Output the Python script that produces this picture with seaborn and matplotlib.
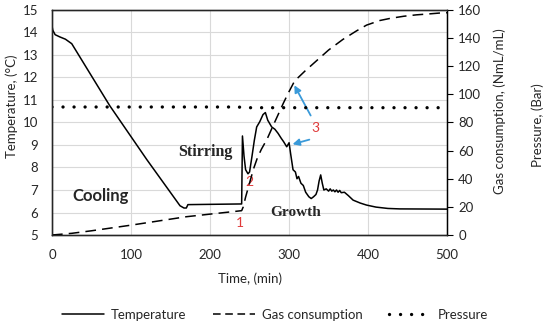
import matplotlib
matplotlib.use("Agg")
import matplotlib.pyplot as plt
import seaborn as sns
from matplotlib.lines import Line2D

# Data ---------------------------------------------------------------------------------
temp_time = [0, 1, 4, 10, 17, 25, 73, 120, 162, 167, 170, 172, 240,
             241, 243, 245, 248, 250, 253, 256, 259, 263, 267, 270, 273, 278, 282, 286,
             290, 293, 297, 300, 302, 305, 308, 310, 312, 315, 318, 321, 325, 328, 331,
             334, 336, 338, 340, 342, 344, 347, 350, 352, 354, 356, 358, 360, 362, 364,
             366, 370, 375, 381, 390, 398, 410, 425, 440, 500]
temp_vals = [14.3, 14.1, 13.9, 13.8, 13.7, 13.5, 10.75, 8.35, 6.3, 6.2, 6.2, 6.35, 6.38,
             9.4, 8.5, 7.9, 7.72, 7.8, 8.48, 9.2, 9.8, 10.04, 10.35, 10.44, 10.1, 9.8, 9.7, 9.52,
             9.3, 9.15, 8.92, 9.1, 8.6, 7.9, 7.8, 7.5, 7.6, 7.3, 7.2, 6.9, 6.7, 6.62, 6.7,
             6.8, 7.0, 7.4, 7.67, 7.3, 7.0, 7.05, 6.95, 7.05, 6.95, 7.0, 6.92, 7.0, 6.9, 6.98,
             6.88, 6.9, 6.75, 6.55, 6.42, 6.33, 6.24, 6.18, 6.16, 6.15]

gas_time = [0, 25, 50, 100, 170, 240, 242, 245, 250, 255, 260, 265, 272, 280, 293, 300,
            307, 320, 335, 350, 368, 385, 398, 415, 428, 445, 461, 480, 495, 500]
gas_vals = [0, 1.2, 3, 7, 13, 17.3, 20, 27, 37, 47, 55, 61, 68, 78, 94, 102,
            109.5, 116.5, 124, 131.5, 139, 145, 149.2, 152.5, 154, 155.5, 156.5, 157.3,
            158, 158]

pres_time = [0, 235, 245, 500]
pres_vals = [91.0, 91.0, 90.5, 90.5]

# Style --------------------------------------------------------------------------------
sns.set_style("white")
plt.rcParams["font.family"] = ["Lato", "DejaVu Sans"]
plt.rcParams["font.size"] = 9.5

fig = plt.figure(figsize=(5.5, 3.31), dpi=100)
ax = fig.add_axes([0.0945, 0.29, 0.7185, 0.68])
ax2 = ax.twinx()
ax3 = ax.twinx()

# Lines
sns.lineplot(x=temp_time, y=temp_vals, ax=ax, color="black", lw=1.1)
sns.lineplot(x=gas_time, y=gas_vals, ax=ax2, color="black", lw=1.1,
             linestyle=(0, (7, 4)))
sns.lineplot(x=pres_time, y=pres_vals, ax=ax3, color="black", lw=2.4,
             linestyle=(0, (0.01, 3.3)), dash_capstyle="round")

# Axes
ax.set_xlim(0, 500)
ax.set_ylim(5, 15)
ax.set_yticks(range(5, 16))
ax.set_xticks(range(0, 501, 100))
ax.grid(True, color="#d9d9d9", lw=0.8)
ax.tick_params(axis="both", length=0, pad=10, labelsize=9.5)
ax.set_xlabel("Time, (min)", labelpad=8)
ax.set_ylabel("Temperature, (°C)", labelpad=3)
ax.yaxis.label.set_y(0.57)
for s in ax.spines.values():
    s.set_color("black")
    s.set_linewidth(1.0)

ax2.set_ylim(0, 160)
ax2.set_yticks(range(0, 161, 20))
ax2.tick_params(axis="y", length=4, width=0.8, color="black", direction="out",
                pad=4, labelsize=9.5)
ax2.set_ylabel("Gas consumption, (NmL/mL)", labelpad=9)
ax2.yaxis.label.set_y(0.55)
ax2.grid(False)
ax2.spines["right"].set_color("black")

ax3.set_ylim(0, 160)
ax3.set_yticks([])
ax3.grid(False)
ax3.spines["right"].set_visible(False)
ax3.set_ylabel("Pressure, (Bar)", labelpad=61)
ax3.yaxis.label.set_y(0.49)

# Annotations
ax.text(61, 6.73, "Cooling", fontsize=12, fontweight="bold", ha="center", va="center")
ax.text(194, 8.69, "Stirring", fontsize=11.5, fontweight="bold", ha="center", va="center",
        family="Liberation Serif")
ax.text(308, 5.98, "Growth", fontsize=11, fontweight="bold", ha="center", va="center",
        family="Liberation Serif")
red = "#e03a3a"
ax.text(238, 5.53, "1", color=red, fontsize=10, ha="center", va="center")
ax.text(250, 7.36, "2", color=red, fontsize=10, ha="center", va="center")
ax.text(333, 9.76, "3", color=red, fontsize=10, ha="center", va="center")
blue = "#3a9ad9"
ax.annotate("", xy=(305, 11.76), xytext=(329, 10.2),
            arrowprops=dict(arrowstyle="-|>", color=blue, lw=1.3, mutation_scale=10))
ax.annotate("", xy=(301, 9.0), xytext=(329, 9.27),
            arrowprops=dict(arrowstyle="-|>", color=blue, lw=1.3, mutation_scale=10))

# Legend
handles = [
    Line2D([], [], color="black", lw=1.1),
    Line2D([], [], color="black", lw=1.1, linestyle=(0, (5, 3))),
    Line2D([], [], color="black", lw=2.4, linestyle=(0, (0.01, 3.3)), dash_capstyle="round"),
]
fig.legend(handles, ["Temperature", "Gas consumption", "Pressure"], loc="lower center",
           bbox_to_anchor=(0.5, -0.005), ncol=3, frameon=False, handlelength=3.2,
           handletextpad=0.5, columnspacing=2.0, fontsize=9.5)

fig.savefig("out.png", dpi=100)
